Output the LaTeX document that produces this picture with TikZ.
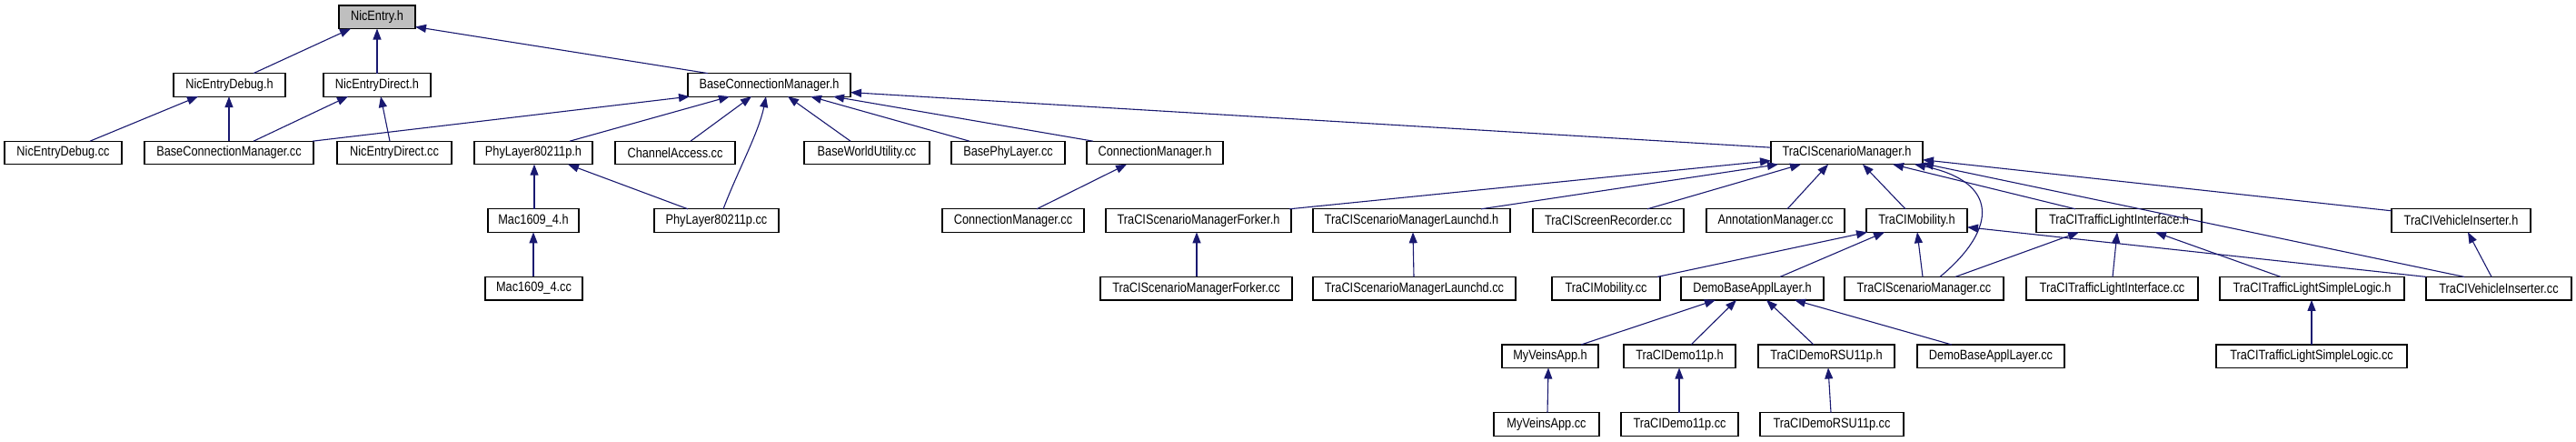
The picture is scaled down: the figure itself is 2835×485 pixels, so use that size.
\documentclass[tikz,border=0pt]{standalone}
\usepackage{fontspec}
\setmainfont{Liberation Sans}[FakeStretch=0.85]
\usetikzlibrary{arrows.meta,calc}
\definecolor{edgeblue}{RGB}{25,25,112}
\definecolor{rootgray}{RGB}{191,191,191}
\newcommand\depedge[4]{\draw[depline] ($(#1.north west)+(#2,0)$) -- ($(#3.south west)+(#4,0)$);}
\begin{document}
\begin{tikzpicture}[x=1pt,y=-1pt,
  box/.style={draw=black, line width=1.2pt, fill=white, inner sep=0pt, outer sep=0pt,
    minimum height=25.5pt, anchor=north west, font=\fontsize{15}{18}\selectfont},
  rootbox/.style={box, fill=rootgray},
  depline/.style={draw=edgeblue, line width=1.1pt, -{Triangle[length=12pt,width=9pt]}}]
\fill[white] (0,0) rectangle (2835,485);
\useasboundingbox (0,0) rectangle (2835,485);
% row 1
\node[rootbox, minimum width=84pt] (ne) at (373,6) {NicEntry.h};
% row 2
\node[box, minimum width=123pt] (ndh) at (191,80.6) {NicEntryDebug.h};
\node[box, minimum width=118pt] (nrh) at (356,80.6) {NicEntryDirect.h};
\node[box, minimum width=179pt] (bcmh) at (757,80.6) {BaseConnectionManager.h};
% row 3
\node[box, minimum width=129pt] (ndc) at (5,155.2) {NicEntryDebug.cc};
\node[box, minimum width=186pt] (bcmc) at (159,155.2) {BaseConnectionManager.cc};
\node[box, minimum width=126pt] (nrc) at (371,155.2) {NicEntryDirect.cc};
\node[box, minimum width=130pt] (plh) at (522,155.2) {PhyLayer80211p.h};
\node[box, minimum width=132pt] (cac) at (677,155.2) {ChannelAccess.cc};
\node[box, minimum width=138pt] (bwu) at (885,155.2) {BaseWorldUtility.cc};
\node[box, minimum width=125pt] (bpl) at (1047,155.2) {BasePhyLayer.cc};
\node[box, minimum width=150pt] (cmh) at (1196,155.2) {ConnectionManager.h};
\node[box, minimum width=167pt] (tsmh) at (1949,155.2) {TraCIScenarioManager.h};
% row 4
\node[box, minimum width=100pt] (mach) at (537,229.8) {Mac1609\_4.h};
\node[box, minimum width=137pt] (plc) at (720,229.8) {PhyLayer80211p.cc};
\node[box, minimum width=156pt] (cmc) at (1037,229.8) {ConnectionManager.cc};
\node[box, minimum width=204pt] (fkh) at (1217,229.8) {TraCIScenarioManagerForker.h};
\node[box, minimum width=217pt] (lch) at (1445,229.8) {TraCIScenarioManagerLaunchd.h};
\node[box, minimum width=166pt] (src) at (1687,229.8) {TraCIScreenRecorder.cc};
\node[box, minimum width=152pt] (amc) at (1878,229.8) {AnnotationManager.cc};
\node[box, minimum width=111pt] (tmh) at (2054,229.8) {TraCIMobility.h};
\node[box, minimum width=182pt] (tlih) at (2241,229.8) {TraCITrafficLightInterface.h};
\node[box, minimum width=153pt] (vih) at (2632,229.8) {TraCIVehicleInserter.h};
% row 5
\node[box, minimum width=107pt] (macc) at (534,304.4) {Mac1609\_4.cc};
\node[box, minimum width=211pt] (fkc) at (1211,304.4) {TraCIScenarioManagerForker.cc};
\node[box, minimum width=223pt] (lcc) at (1445,304.4) {TraCIScenarioManagerLaunchd.cc};
\node[box, minimum width=119pt] (tmc) at (1708,304.4) {TraCIMobility.cc};
\node[box, minimum width=157pt] (dbh) at (1850,304.4) {DemoBaseApplLayer.h};
\node[box, minimum width=175pt] (tsmc) at (2030,304.4) {TraCIScenarioManager.cc};
\node[box, minimum width=189pt] (tlic) at (2230,304.4) {TraCITrafficLightInterface.cc};
\node[box, minimum width=203pt] (slh) at (2443,304.4) {TraCITrafficLightSimpleLogic.h};
\node[box, minimum width=160pt] (vic) at (2670,304.4) {TraCIVehicleInserter.cc};
% row 6
\node[box, minimum width=106pt] (mvh) at (1653,379) {MyVeinsApp.h};
\node[box, minimum width=123pt] (dmh) at (1787,379) {TraCIDemo11p.h};
\node[box, minimum width=150pt] (rsh) at (1935,379) {TraCIDemoRSU11p.h};
\node[box, minimum width=162pt] (dbc) at (2110,379) {DemoBaseApplLayer.cc};
\node[box, minimum width=210pt] (slc) at (2439,379) {TraCITrafficLightSimpleLogic.cc};
% row 7
\node[box, minimum width=116pt] (mvc) at (1644,453.6) {MyVeinsApp.cc};
\node[box, minimum width=129pt] (dmc) at (1784,453.6) {TraCIDemo11p.cc};
\node[box, minimum width=158pt] (rsc) at (1937,453.6) {TraCIDemoRSU11p.cc};
% edges
\depedge{ndh}{88}{ne}{13}
\depedge{nrh}{59}{ne}{42}
\draw[depline] ($(bcmh.north west)+(22,0)$) -- ($(ne.south east)+(0,-2)$);
\depedge{ndc}{94}{ndh}{27}
\depedge{bcmc}{93}{ndh}{61}
\depedge{bcmc}{120}{nrh}{27}
\depedge{nrc}{58}{nrh}{63}
\depedge{bcmc}{185}{bcmh}{2}
\depedge{plh}{105}{bcmh}{46}
\depedge{cac}{83}{bcmh}{70}
\draw[depline] ($(plc.north west)+(76,0)$) .. controls +(15,-40) and +(-8,40) .. ($(bcmh.south west)+(86,0)$);
\depedge{bwu}{51}{bcmh}{110}
\depedge{bpl}{20}{bcmh}{135}
\depedge{cmh}{7}{bcmh}{160}
\draw[depline] ($(tsmh.north west)+(0,7)$) -- ($(bcmh.north east)+(0,21)$);
\depedge{mach}{51}{plh}{66}
\depedge{plc}{37}{plh}{103}
\depedge{macc}{53}{mach}{50}
\depedge{cmc}{104}{cmh}{44}
\draw[depline] ($(fkh.north east)+(-2,0)$) -- ($(tsmh.south west)+(0,-4)$);
\depedge{lch}{185}{tsmh}{8}
\depedge{src}{126}{tsmh}{33}
\depedge{amc}{89}{tsmh}{63}
\depedge{tmh}{43}{tsmh}{101}
\draw[depline] ($(tsmc.north west)+(105,0)$) .. controls +(65,-54) and +(92,19) .. ($(tsmh.south west)+(158,0)$);
\depedge{tlih}{43}{tsmh}{134}
\draw[depline] ($(vic.north west)+(42,0)$) -- ($(tsmh.south east)+(0,-1)$);
\draw[depline] ($(vih.north west)+(0,2)$) -- ($(tsmh.south east)+(0,-5)$);
\depedge{fkc}{106}{fkh}{100}
\depedge{lcc}{111}{lch}{110}
\depedge{tmc}{116}{tmh}{1}
\depedge{dbh}{109}{tmh}{20}
\depedge{tsmc}{86}{tmh}{56}
\draw[depline] (vic.north west) -- ($(tmh.north east)+(0,20)$);
\depedge{tsmc}{122}{tlih}{47}
\depedge{tlic}{95}{tlih}{89}
\depedge{slh}{67}{tlih}{131}
\depedge{vic}{72}{vih}{84}
\depedge{slc}{105}{slh}{101}
\depedge{mvh}{87}{dbh}{38}
\depedge{dmh}{74}{dbh}{61}
\depedge{rsh}{61}{dbh}{94}
\depedge{dbc}{38}{dbh}{125}
\depedge{mvc}{59}{mvh}{51}
\depedge{dmc}{64}{dmh}{61}
\depedge{rsc}{78}{rsh}{77}
\end{tikzpicture}
\end{document}
